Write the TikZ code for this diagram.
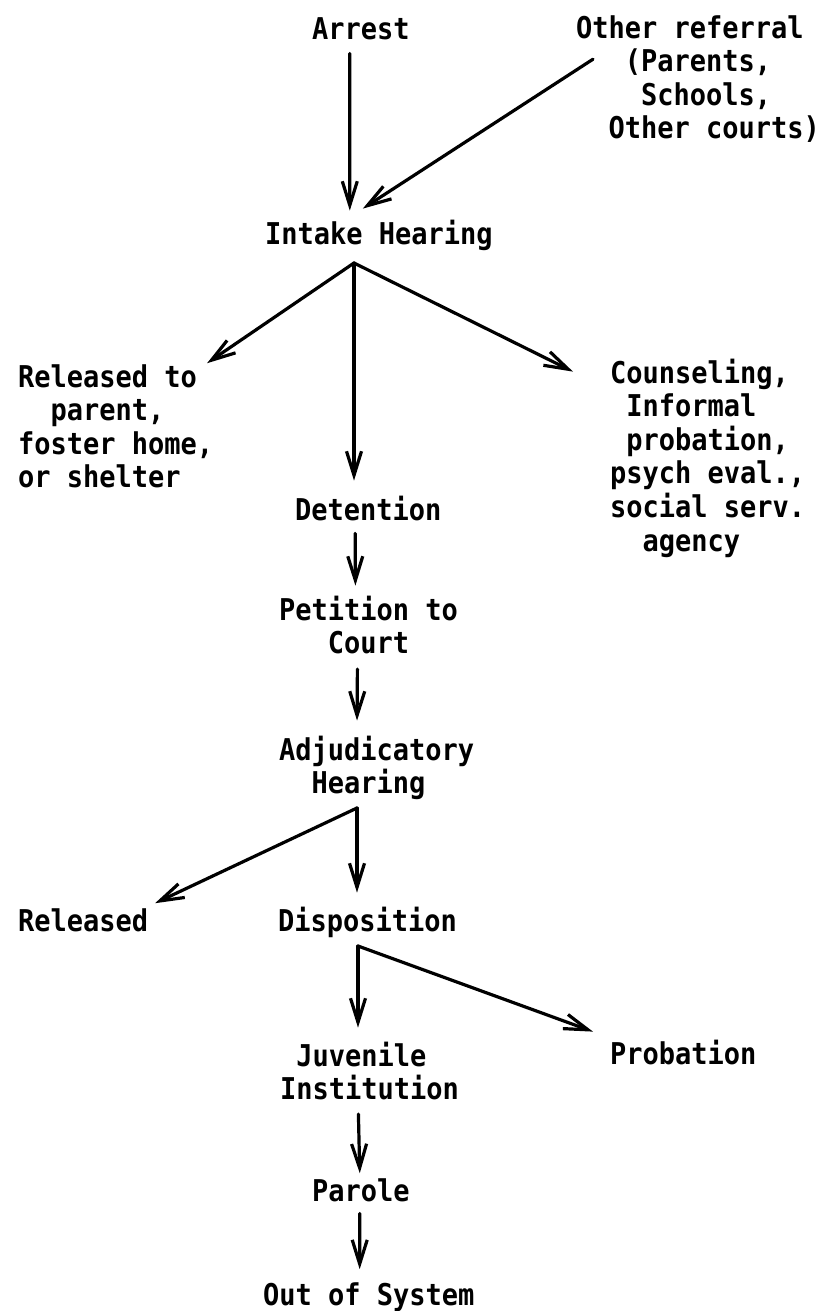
\documentclass[tikz,border=0pt]{standalone}
\usepackage{fontspec}
\usetikzlibrary{arrows.meta}
\newfontfamily\tw{DejaVu Sans Mono}[FakeStretch=0.9]
\begin{document}
\begin{tikzpicture}[x=1pt,y=-1pt,
  lbl/.style={inner sep=0pt, outer sep=0pt, anchor=base west, align=left,
    font=\tw\bfseries\fontsize{30pt}{33.6pt}\selectfont},
  arr/.style={line width=3.2pt, line cap=round, -{Straight Barb[length=24pt,width=15pt]}}]
\fill[white] (0,0) rectangle (823,1311);
\useasboundingbox (0,0) rectangle (823,1311);

% multi-line nodes are placed at the baseline of their last line
\node[lbl] (arrest) at (312,40) {Arrest};
\node[lbl] (other) at (576,138.8) {Other referral\\~~~(Parents,\\~~~~Schools,\\~~Other courts)};
\node[lbl] (intake) at (265,244) {Intake Hearing};
\node[lbl] (rel) at (18,487.8) {Released to\\~~parent,\\foster home,\\or shelter};
\node[lbl] (coun) at (610,551) {Counseling,\\~Informal\\~probation,\\psych eval.,\\social serv.\\~~agency};
\node[lbl] (det) at (295,520) {Detention};
\node[lbl] (pet) at (279,653.6) {Petition to\\~~~Court};
\node[lbl] (adj) at (279,793.6) {Adjudicatory\\~~Hearing};
\node[lbl] (released) at (18,931) {Released};
\node[lbl] (disp) at (278,931) {Disposition};
\node[lbl] (juv) at (280,1099.6) {~Juvenile\\Institution};
\node[lbl] (prob) at (610,1064) {Probation};
\node[lbl] (parole) at (312,1201) {Parole};
\node[lbl] (out) at (263,1305) {Out of System};

\coordinate (f1) at (354,263);
\coordinate (f2) at (357,808);
\coordinate (f3) at (358,946);

\draw[arr] ([xshift=-11pt,yshift=-13pt]arrest.south) -- ([xshift=-29pt,yshift=9pt]intake.north);
\draw[arr] ([xshift=17pt,yshift=-44pt]other.north west) -- ([xshift=-16pt,yshift=11pt]intake.north);
\draw[arr] (f1) -- ([xshift=-6pt,yshift=1pt]rel.north east);
\draw[arr, shorten >=15pt] (f1) -- (f1 |- det.north);
\draw[arr] (f1) -- ([xshift=-37pt,yshift=-13pt]coun.north west);
\draw[arr] ([xshift=-13pt,yshift=-13pt]det.south) -- ([xshift=-13pt,yshift=10pt]pet.north);
\draw[arr] ([xshift=-11pt,yshift=-15pt]pet.south) -- ([xshift=-19.5pt,yshift=15pt]adj.north);
\draw[arr] (f2) -- ([xshift=7pt,yshift=5pt]released.north east);
\draw[arr, shorten >=14pt] (f2) -- (f2 |- disp.north);
\draw[arr, shorten >=14pt] (f3) -- (f3 |- juv.north);
\draw[arr] (f3) -- ([xshift=-17pt,yshift=8pt]prob.north west);
\draw[arr] ([xshift=-11pt,yshift=-14pt]juv.south) -- ([xshift=-1pt,yshift=5pt]parole.north);
\draw[arr] ([xshift=-1pt,yshift=-12pt]parole.south) -- ([xshift=-9pt,yshift=13pt]out.north);
\end{tikzpicture}
\end{document}
